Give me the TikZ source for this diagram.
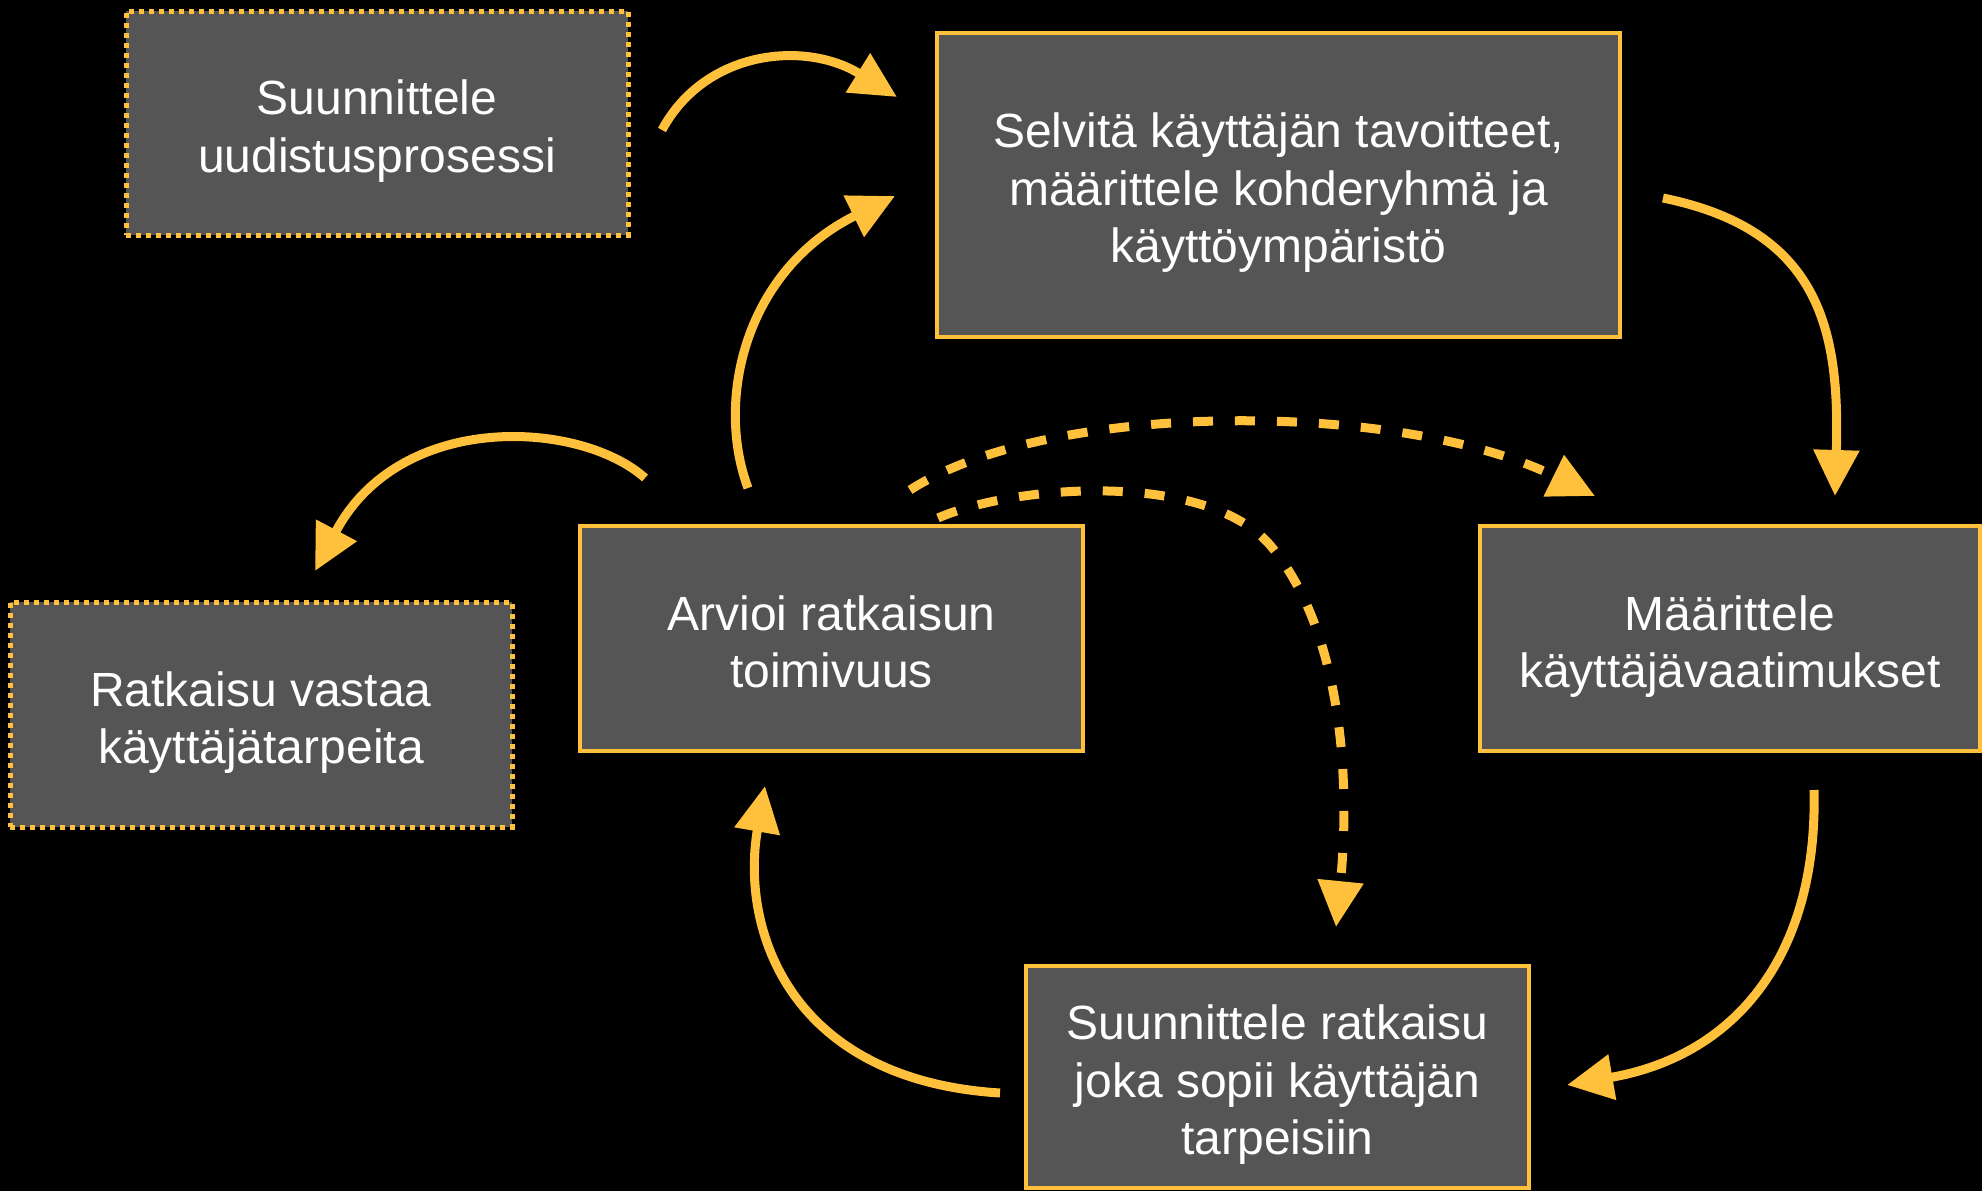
\documentclass[tikz,border=0pt]{standalone}
\usepackage{fontspec}
\setmainfont{Liberation Sans}
\usetikzlibrary{arrows.meta}
\definecolor{ylw}{RGB}{255,193,59}
\definecolor{boxgray}{RGB}{85,85,85}
\begin{document}
\begin{tikzpicture}[x=1pt,y=-1pt,
  txt/.style={text=white, align=center, font=\fontsize{48}{57.5}\selectfont,
    inner sep=0pt, yshift=-8pt},
  box/.style={draw=ylw, fill=boxgray, line width=4.5pt, inner sep=0pt, outer sep=0pt},
  dotbox/.style={box, line width=5pt, dash pattern=on 5pt off 5pt},
  flow/.style={draw=ylw, line width=9pt, -{Triangle[length=46pt,width=44pt]}},
  dflow/.style={flow, dash pattern=on 20pt off 22pt},
]
\fill[black] (0,0) rectangle (1982,1191);
\useasboundingbox (0,0) rectangle (1982,1191);

\node[dotbox, minimum width=502pt, minimum height=224pt,
  label={[txt]center:{Suunnittele\\uudistusprosessi}}] (plan) at (377,123) {};
\node[box, minimum width=683pt, minimum height=304pt,
  label={[txt]center:{Selvitä käyttäjän tavoitteet,\\määrittele kohderyhmä ja\\käyttöympäristö}}] (goal) at (1278.5,185) {};
\node[box, minimum width=500pt, minimum height=225pt,
  label={[txt]center:{Määrittele\\käyttäjävaatimukset}}] (req) at (1730,638.5) {};
\node[box, minimum width=503pt, minimum height=222pt,
  label={[txt]center:{Suunnittele ratkaisu\\joka sopii käyttäjän\\tarpeisiin}}] (design) at (1277.5,1077) {};
\node[box, minimum width=503pt, minimum height=225pt,
  label={[txt]center:{Arvioi ratkaisun\\toimivuus\vphantom{p}}}] (eval) at (831.5,638.5) {};
\node[dotbox, minimum width=502pt, minimum height=225pt,
  label={[txt]center:{Ratkaisu vastaa\\käyttäjätarpeita}}] (done) at (261,714.5) {};

% connector end points
\coordinate (a1s) at (662,130);  \coordinate (a1e) at (897,97);
\coordinate (a2s) at (1663,198); \coordinate (a2e) at (1835,496);
\coordinate (a3s) at (1814,790); \coordinate (a3e) at (1567,1085);
\coordinate (a4s) at (1000,1093);\coordinate (a4e) at (765,786);
\coordinate (a5s) at (748,488);  \coordinate (a5e) at (895,196);
\coordinate (a6s) at (645,478);  \coordinate (a6e) at (315,571);
\coordinate (a7s) at (910,490);  \coordinate (a7e) at (1595,496);
\coordinate (a8s) at (938,518);  \coordinate (a8m) at (1270,545); \coordinate (a8e) at (1336,927);

\draw[flow] (a1s) .. controls (705,50) and (805,40) .. (a1e);
\draw[flow] (a2s) .. controls (1820,230) and (1840,330) .. (a2e);
\draw[flow] (a3s) .. controls (1818,950) and (1740,1055) .. (a3e);
\draw[flow] (a4s) .. controls (790,1080) and (740,930) .. (a4e);
\draw[flow] (a5s) .. controls (715,400) and (745,270) .. (a5e);
\draw[flow] (a6s) .. controls (580,420) and (400,410) .. (a6e);
\draw[dflow] (a7s) .. controls (1050,400) and (1400,400) .. (a7e);
\draw[dflow] (a8s) .. controls (1013,485) and (1205,470) .. (a8m)
                   .. controls (1341,629) and (1351,777) .. (a8e);
\end{tikzpicture}
\end{document}
